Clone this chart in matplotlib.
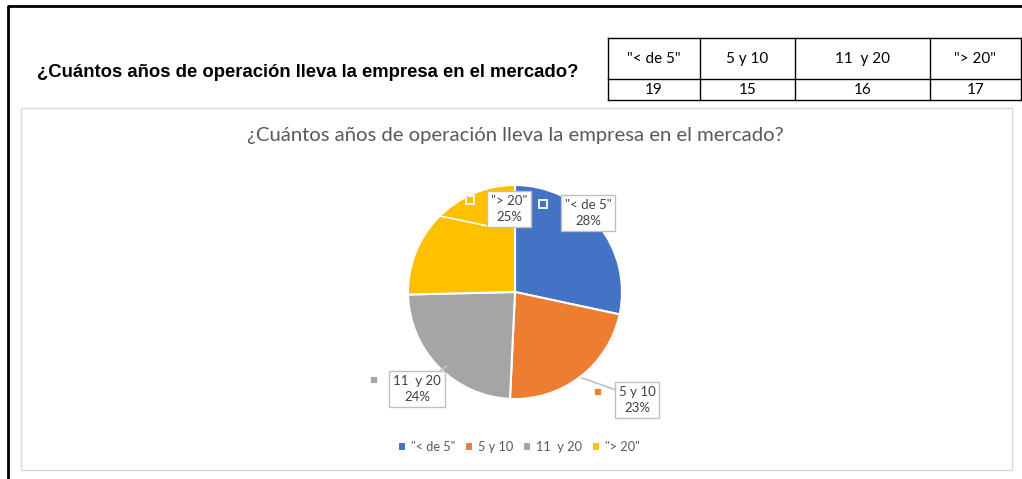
import numpy as np
import matplotlib.pyplot as plt
from matplotlib.patches import Rectangle

categories = ['"< de 5"', '5 y 10', '11  y 20', '"> 20"']
counts = [19, 15, 16, 17]
colors = ['#4472C4', '#ED7D31', '#A5A5A5', '#FFC000']
question = '¿Cuántos años de operación lleva la empresa en el mercado?'


def rounded_percents(vals):
    # Excel-like: percentages forced to sum to 100 (largest remainder)
    raw = np.array(vals, dtype=float) / sum(vals) * 100
    fl = np.floor(raw).astype(int)
    rest = 100 - fl.sum()
    order = np.argsort(-(raw - fl))
    fl[order[:rest]] += 1
    return fl


W, H = 1022, 479
fig = plt.figure(figsize=(W / 100, H / 100), dpi=100)
bg = fig.add_axes([0, 0, 1, 1])
bg.set_xlim(0, W)
bg.set_ylim(H, 0)
bg.axis('off')

# sheet border
bg.plot([8, 8, W], [H, 6, 6], color='black', lw=2, solid_capstyle='butt')

bg.text(37, 72, question, fontsize=13.3, fontweight='bold',
        family='Liberation Sans', va='center', ha='left')

# small data table
col_x = [608, 700, 795, 930, 1021]
row_y = [38, 79, 100]
for x in col_x:
    bg.plot([x, x], [row_y[0], row_y[-1]], color='black', lw=1)
for y in row_y:
    bg.plot([col_x[0], col_x[-1]], [y, y], color='black', lw=1)
for i, (cat, n) in enumerate(zip(categories, counts)):
    cx = (col_x[i] + col_x[i + 1]) / 2
    bg.text(cx, (row_y[0] + row_y[1]) / 2, cat, ha='center', va='center',
            fontsize=11, family='Lato')
    bg.text(cx, (row_y[1] + row_y[2]) / 2 + 0.5, str(n), ha='center', va='center',
            fontsize=11, family='Lato')

# chart area
bg.add_patch(Rectangle((21, 108), 991, 362, fill=False, ec='#D9D9D9', lw=1))
bg.text(515, 135, question, ha='center', va='center', fontsize=14.6,
        color='#595959', family='Lato')

# pie
cx, cy, r = 515, 292, 107
pie_ax = fig.add_axes([(cx - r) / W, (H - cy - r) / H, 2 * r / W, 2 * r / H])
wedges, _ = pie_ax.pie(counts, colors=colors, startangle=90, counterclock=False,
                       wedgeprops=dict(edgecolor='white', linewidth=1.5))
pie_ax.set_xlim(-1, 1)
pie_ax.set_ylim(-1, 1)

pcts = rounded_percents(counts)

# label boxes (center px), key marker px, leader line on slice
box_pos = [(588, 213), (637, 400), (417, 389), (509, 209)]
key_pos = [(543, 204), (598, 392), (374, 380), (470, 200)]
leaders = [None, ((582, 378), (616, 390)), ((447, 366), (441, 370)),
           ((440, 216), (488, 226))]
leader_cols = [None, '#BFBFBF', '#BFBFBF', 'white']
for i in range(len(categories)):
    if leaders[i] is not None:
        (x0, y0), (x1, y1) = leaders[i]
        bg.plot([x0, x1], [y0, y1], color=leader_cols[i], lw=1.2, zorder=5)
    bx, by = box_pos[i]
    bg.text(bx, by, f'{categories[i]}\n{pcts[i]}%', ha='center', va='center',
            fontsize=9.5, color='#404040', family='Lato', linespacing=1.45,
            zorder=6,
            bbox=dict(boxstyle='square,pad=0.3', fc='white', ec='#BFBFBF', lw=1))
    kx, ky = key_pos[i]
    bg.plot(kx, ky, marker='s', ms=5.5, color=colors[i], mec='white', mew=1.3,
            zorder=7)
# bring label layer above the pie
bg.set_zorder(pie_ax.get_zorder() + 1)
bg.patch.set_visible(False)

leg = fig.legend(wedges, categories, loc='center', ncol=4, frameon=False,
                 bbox_to_anchor=(519 / W, 1 - 447 / H),
                 handlelength=0.6, handleheight=0.6, handletextpad=0.4,
                 columnspacing=0.8, prop={'family': 'Lato', 'size': 9.2})
for t in leg.get_texts():
    t.set_color('#595959')

fig.savefig('out.png', dpi=100)
